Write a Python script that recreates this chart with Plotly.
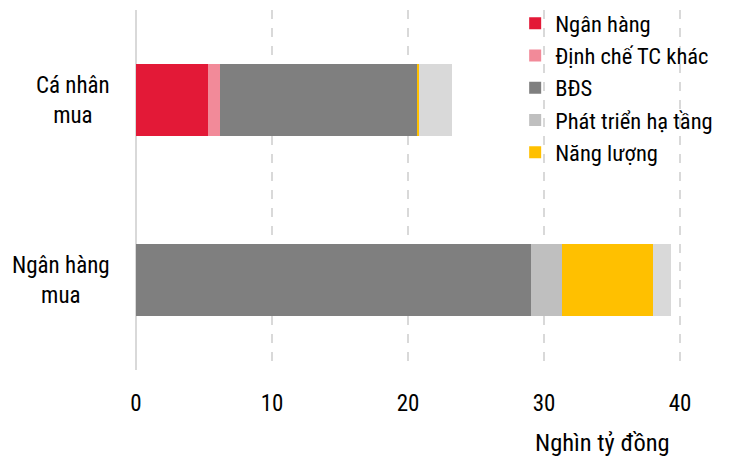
import plotly.graph_objects as go

categories = ["Cá nhân mua", "Ngân hàng mua"]
category_labels = ["Cá nhân<br>mua", "Ngân hàng<br>mua"]

series_names = ["Ngân hàng", "Định chế TC khác", "BĐS", "Phát triển hạ tầng", "Năng lượng", "Khác"]
ngan_hang = [5.26, 0.0]
dinh_che = [0.93, 0.0]
bds = [14.5, 29.08]
ha_tang = [0.0, 2.25]
nang_luong = [0.1, 6.68]
khac = [2.47, 1.35]

colors = ["#e31937", "#f28a99", "#7f7f7f", "#bfbfbf", "#ffc000", "#d9d9d9"]
x_ticks = [0, 10, 20, 30, 40]
axis_title = "Nghìn tỷ đồng"

FONT = "Roboto Condensed, Roboto, sans-serif"

fig = go.Figure()
values = [ngan_hang, dinh_che, bds, ha_tang, nang_luong, khac]
for name, vals, col in zip(series_names, values, colors):
    fig.add_trace(go.Bar(
        y=categories, x=vals, name=name, orientation="h",
        marker=dict(color=col, line=dict(width=0)),
        legendgroup=name, showlegend=(name != "Khác"),
    ))

for cat, lab in zip(categories, category_labels):
    fig.add_annotation(x=0, xref="paper", xanchor="right", xshift=-24,
                       y=cat, yref="y", yanchor="middle",
                       text=lab, showarrow=False, align="center",
                       font=dict(size=23, color="#000", family=FONT))

fig.add_annotation(x=34.3, xref="x", xanchor="center",
                   y=(370 - 442) / 360, yref="paper", yanchor="middle",
                   text=axis_title, showarrow=False,
                   font=dict(size=24.5, color="#000", family=FONT))

fig.update_layout(
    width=731, height=461,
    margin=dict(l=136, r=17, t=10, b=91, autoexpand=False),
    barmode="stack", bargap=0.6,
    plot_bgcolor="white", paper_bgcolor="white",
    font=dict(family=FONT, size=23, color="#000"),
    showlegend=True,
    legend=dict(x=0.656, xanchor="left", y=1.022, yanchor="top",
                traceorder="grouped", tracegroupgap=0,
                bgcolor="rgba(0,0,0,0)", font=dict(size=22.5, family=FONT)),
    xaxis=dict(range=[0, 42.5], tickvals=x_ticks, showgrid=True,
               gridcolor="#d9d9d9", gridwidth=1.5, griddash="dash",
               zeroline=True, zerolinecolor="#d9d9d9", zerolinewidth=2,
               showline=False, ticks="", ticklabelstandoff=17,
               tickfont=dict(size=23, family=FONT)),
    yaxis=dict(autorange="reversed", showticklabels=False, showgrid=False,
               zeroline=False, showline=False, ticks=""),
)

fig.write_html("out.html")
